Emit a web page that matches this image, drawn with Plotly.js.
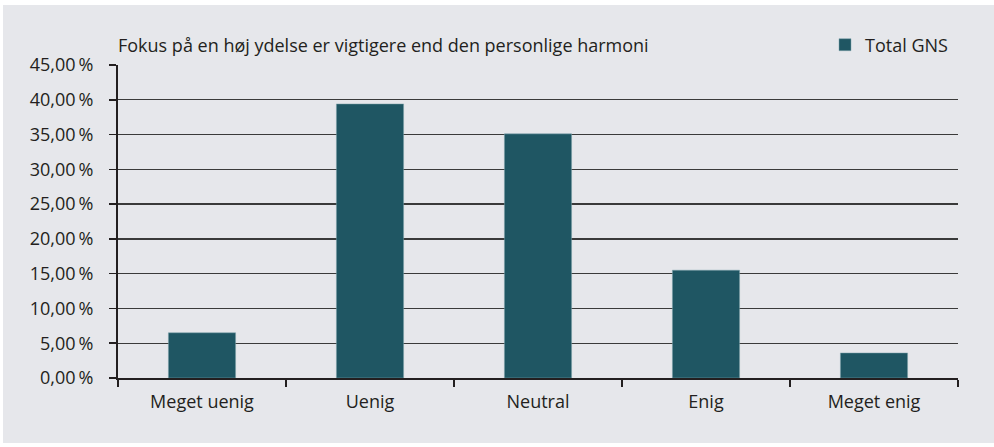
<!DOCTYPE html>
<html>
<head>
<meta charset="utf-8">
<script src="https://cdn.plot.ly/plotly-3.0.1.min.js"></script>
<style>html,body{margin:0;padding:0;background:#fff;}#chart{width:994px;height:447px;}</style>
</head>
<body>
<div id="chart"></div>
<script>
var categories = ["Meget uenig", "Uenig", "Neutral", "Enig", "Meget enig"];
var totalGNS = [6.5, 39.4, 35.1, 15.5, 3.6];
var seriesName = "Total GNS";
var chartTitle = "Fokus på en høj ydelse er vigtigere end den personlige harmoni";
var yTicks = [0, 5, 10, 15, 20, 25, 30, 35, 40, 45];

var FONT = "Open Sans, DejaVu Sans, sans-serif";
var TXT = "#231f20";
var BG = "#e6e7eb";

var trace = {
  type: "bar",
  x: categories,
  y: totalGNS,
  name: seriesName,
  marker: {color: "#1f5663", line: {color: "#7fa4ad", width: 0.5}},
  width: 0.4,
  showlegend: true,
  hoverinfo: "skip"
};

var L = 118, R = 36, T = 65, B = 69;
var W = 994, H = 447;
var pw = W - L - R, ph = H - T - B;

var layout = {
  width: W, height: H,
  margin: {l: L, r: R, t: T, b: B, pad: 0},
  paper_bgcolor: "#ffffff",
  plot_bgcolor: BG,
  separators: ",.",
  font: {family: FONT, size: 18, color: TXT},
  title: {
    text: chartTitle,
    font: {family: FONT, size: 18, color: TXT},
    xref: "paper", x: 0, xanchor: "left",
    yref: "container", y: 1 - 46 / H, yanchor: "middle"
  },
  showlegend: true,
  legend: {
    x: (954 - L) / pw, xanchor: "right",
    y: (H - B - 45) / ph, yanchor: "middle",
    bgcolor: "rgba(0,0,0,0)",
    font: {family: FONT, size: 18, color: TXT},
    itemwidth: 30
  },
  xaxis: {
    type: "category",
    tickson: "boundaries",
    ticks: "outside", ticklen: 7, tickwidth: 1.5, tickcolor: "#231f20",
    ticklabelstandoff: 6,
    showline: true, linecolor: "#231f20", linewidth: 2,
    showgrid: false, zeroline: false,
    tickfont: {family: FONT, size: 18, color: TXT},
    fixedrange: true
  },
  yaxis: {
    range: [0, 45],
    tickvals: yTicks,
    ticktext: yTicks.map(function (v) { return v.toFixed(2).replace(".", ",") + "\u2009%"; }),
    ticks: "outside", ticklen: 7, tickwidth: 1.5, tickcolor: "#231f20",
    ticklabelstandoff: 12,
    showline: true, linecolor: "#231f20", linewidth: 2,
    showgrid: true, gridcolor: "#3a3a3a", gridwidth: 1.3,
    zeroline: false,
    tickfont: {family: FONT, size: 18, color: TXT},
    fixedrange: true
  },
  shapes: [{
    type: "rect", layer: "below",
    xref: "paper", yref: "paper",
    x0: (3 - L) / pw, x1: (W - L) / pw,
    y0: -(H - 4 - (H - B)) / ph, y1: (H - B - 5) / ph,
    fillcolor: BG, line: {width: 0}
  }]
};

Plotly.newPlot("chart", [trace], layout, {displayModeBar: false, staticPlot: true});
</script>
</body>
</html>
